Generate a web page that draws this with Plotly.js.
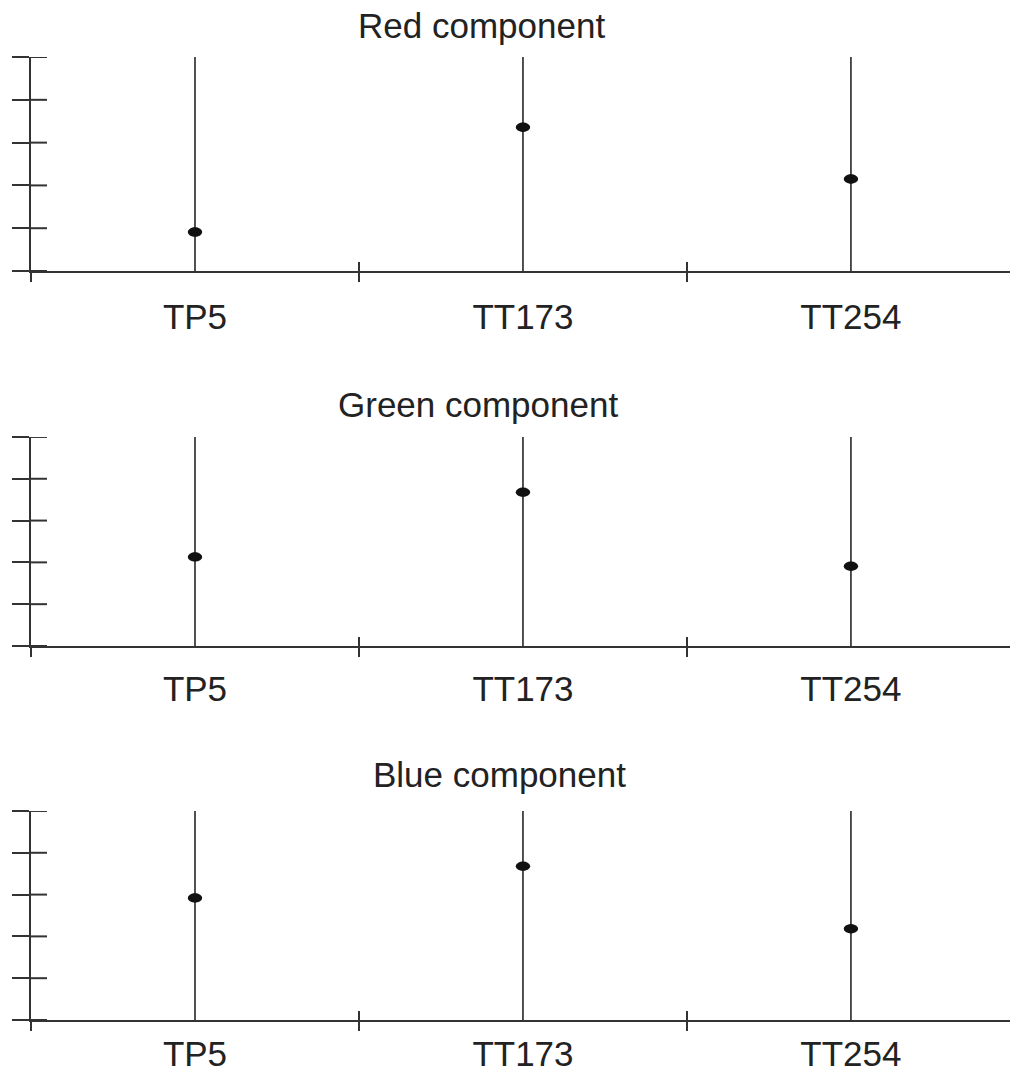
<!DOCTYPE html>
<html>
<head>
<meta charset="utf-8">
<script src="https://cdn.plot.ly/plotly-3.0.1.min.js"></script>
<style>html,body{margin:0;padding:0;background:#fff}</style>
</head>
<body>
<div id="chart" style="width:1011px;height:1072px"></div>
<script>
// ---- data ----
const categories = ["TP5", "TT173", "TT254"];
const panelTitles = ["Red component", "Green component", "Blue component"];
const redValues = [0.91, 3.36, 2.15];
const greenValues = [2.13, 3.68, 1.91];
const blueValues = [2.92, 3.68, 2.18];
const yTickValues = [0, 1, 2, 3, 4, 5];

// ---- layout helpers ----
const W = 1011, H = 1072;
const yMin = 0, yMax = 5;
const xRange = [-0.5, 2.485];
const lineCol = "#333333";
const FONT = "Liberation Sans, Arial, Helvetica, sans-serif";
const series = [redValues, greenValues, blueValues];
const domains = [[0.7472, 0.9468], [0.3974, 0.5924], [0.0485, 0.2435]];
const standoffs = [14, 11, 2];
const titlePos = [[0.4597, 0.9765], [0.4566, 0.6231], [0.479, 0.2771]];
const plotW = W - 31 - 1;

const traces = [];
const layout = {
  width: W, height: H,
  margin: {l: 31, r: 1, t: 0, b: 0},
  paper_bgcolor: "#fff", plot_bgcolor: "rgba(0,0,0,0)",
  showlegend: false,
  font: {family: FONT, size: 35, color: "#222"},
  shapes: [], annotations: []
};

series.forEach((vals, p) => {
  const xi = p === 0 ? "" : String(p + 1);
  const xo = String(p + 4);
  // overlay trace (invisible, same data) so the inside x ticks get drawn
  traces.push({type: "scatter", mode: "markers", x: categories, y: vals,
    marker: {opacity: 0, size: 1},
    xaxis: "x" + xo, yaxis: "y" + xi, hoverinfo: "skip"});
  // points with vertical lines spanning the full axis range
  traces.push({
    type: "scatter", mode: "markers",
    x: categories, y: vals,
    xaxis: "x" + xi, yaxis: "y" + xi,
    marker: {color: "#111", size: 9, symbol: "circle"},
    error_y: {
      type: "data", symmetric: false,
      array: vals.map(v => yMax - v),
      arrayminus: vals.map(v => v - yMin),
      color: lineCol, thickness: 1.7, width: 0
    },
    hoverinfo: "x+y", cliponaxis: false
  });

  // ellipse markers drawn in data units
  vals.forEach((v, i) => {
    layout.shapes.push({
      type: "circle", xref: "x" + xi, yref: "y" + xi,
      x0: i - 0.022, x1: i + 0.022, y0: v - 0.11, y1: v + 0.11,
      fillcolor: "#111", line: {width: 0}, layer: "above"
    });
  });
  // inner half of the y tick marks (ticks cross the axis line)
  yTickValues.forEach(t => {
    layout.shapes.push({
      type: "line", xref: "x" + xi + " domain", yref: "y" + xi,
      x0: 0, x1: 16 / plotW, y0: t, y1: t,
      line: {color: lineCol, width: 2}, layer: "above"
    });
  });

  layout["xaxis" + xi] = {
    type: "category", categoryarray: categories, categoryorder: "array",
    range: xRange, domain: [0, 1], anchor: "y" + xi,
    showline: true, linecolor: lineCol, linewidth: 2,
    showgrid: false, zeroline: false,
    ticks: "outside", tickson: "boundaries", ticklen: 9, tickwidth: 2, tickcolor: lineCol,
    ticklabelstandoff: standoffs[p],
    tickfont: {family: FONT, size: 35, color: "#222"},
    fixedrange: true
  };
  layout["yaxis" + xi] = {
    range: [yMin, yMax], domain: domains[p], anchor: "x" + xi,
    showline: true, linecolor: lineCol, linewidth: 2,
    showgrid: false, zeroline: false,
    tickmode: "array", tickvals: yTickValues, ticks: "outside", ticklen: 17, tickwidth: 2, tickcolor: lineCol,
    showticklabels: false, fixedrange: true
  };
  layout["xaxis" + xo] = {
    type: "category", categoryarray: categories, categoryorder: "array",
    overlaying: "x" + xi, anchor: "y" + xi, side: "bottom", range: xRange,
    ticks: "inside", tickson: "boundaries", ticklen: 9, tickwidth: 2, tickcolor: lineCol,
    showline: false, showgrid: false, zeroline: false, showticklabels: false, fixedrange: true
  };

  layout.annotations.push({
    text: panelTitles[p], xref: "paper", yref: "paper",
    x: titlePos[p][0], y: titlePos[p][1], xanchor: "center", yanchor: "middle",
    showarrow: false, font: {family: FONT, size: 35, color: "#222"}
  });
});

Plotly.newPlot("chart", traces, layout, {displayModeBar: false, staticPlot: true});
</script>
</body>
</html>
